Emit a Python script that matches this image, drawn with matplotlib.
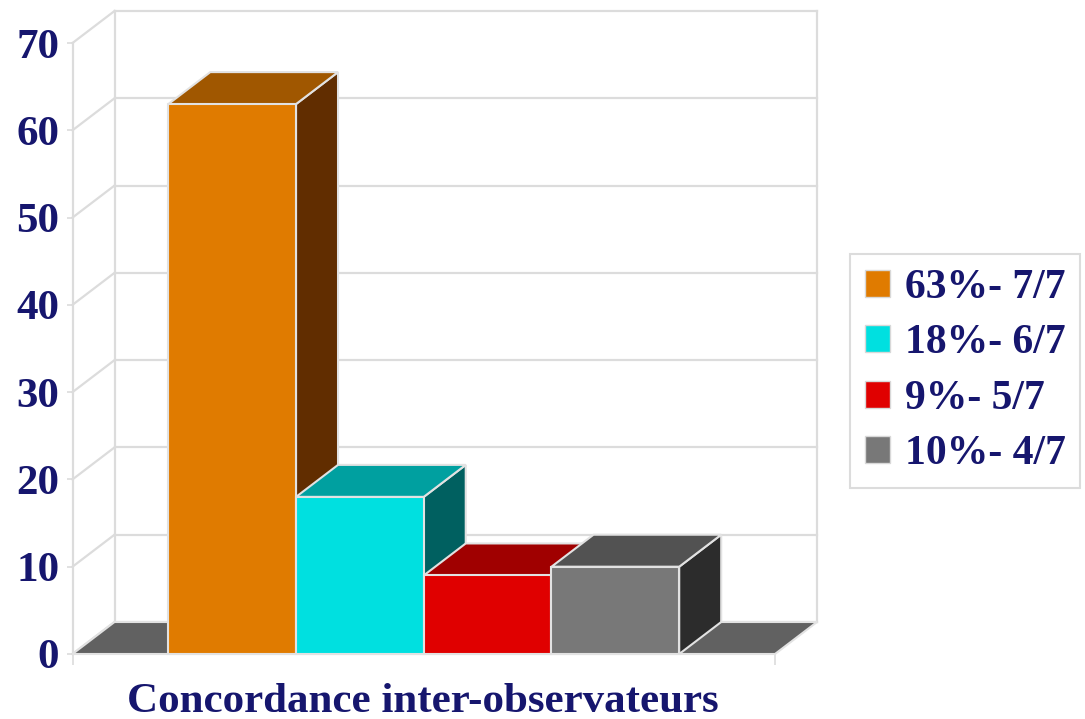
import matplotlib.pyplot as plt
from matplotlib.patches import Polygon, Patch

categories = ['63%- 7/7', '18%- 6/7', '9%- 5/7', '10%- 4/7']
values = [63, 18, 9, 10]
front_colors = ['#E07B00', '#00E0E0', '#E00000', '#787878']
top_colors = ['#A05700', '#00A0A0', '#A00000', '#525252']
side_colors = ['#612D00', '#006060', '#600000', '#2C2C2C']
yticks = [0, 10, 20, 30, 40, 50, 60, 70]

text_color = '#16166E'
grid_color = '#DCDCDC'
edge_color = '#E2E2E2'
font = 'Liberation Serif'

W, H = 1085, 719
fig = plt.figure(figsize=(W / 100, H / 100), dpi=100)

# front plane of the 3d box, in pixels
left, right, bottom, top = 72.5, 775, 654, 43
ax = fig.add_axes([left / W, 1 - bottom / H, (right - left) / W, (bottom - top) / H])
xmax, ymax = 5.5, 70
ax.set_xlim(0, xmax)
ax.set_ylim(0, ymax)
ax.patch.set_visible(False)
for s in ax.spines.values():
    s.set_visible(False)

# depth offset (pixels -> data units)
DX = 42 / ((right - left) / xmax)
DY = 32 / ((bottom - top) / ymax)

kw = dict(color=grid_color, lw=1.6, clip_on=False, zorder=1)
for t in yticks:
    ax.plot([DX, xmax + DX], [t + DY, t + DY], **kw)
    ax.plot([0, DX], [t, t + DY], **kw)
ax.plot([0, 0], [0, ymax], **kw)
ax.plot([DX, DX], [DY, ymax + DY], **kw)
ax.plot([xmax + DX, xmax + DX], [DY, ymax + DY], **kw)

# floor
ax.add_patch(Polygon([(0, 0), (xmax, 0), (xmax + DX, DY), (DX, DY)], closed=True,
                     facecolor='#616161', edgecolor=edge_color, lw=1.5,
                     clip_on=False, zorder=2))

# bars, drawn left to right
gap = 0.75
for i, v in enumerate(values):
    x0 = gap + i
    x1 = x0 + 1
    z = 3 + i
    ax.add_patch(Polygon([(x1, 0), (x1 + DX, DY), (x1 + DX, v + DY), (x1, v)], closed=True,
                         facecolor=side_colors[i], edgecolor=edge_color, lw=1.5,
                         clip_on=False, zorder=z))
    ax.add_patch(Polygon([(x0, v), (x1, v), (x1 + DX, v + DY), (x0 + DX, v + DY)], closed=True,
                         facecolor=top_colors[i], edgecolor=edge_color, lw=1.5,
                         clip_on=False, zorder=z))
    ax.bar(x0, v, width=1, align='edge', color=front_colors[i],
           edgecolor=edge_color, lw=1.5, clip_on=False, zorder=z + 0.5)

ax.set_yticks(yticks)
ax.set_yticklabels([str(t) for t in yticks], fontsize=31, fontweight='bold',
                   family=font, color=text_color)
ax.tick_params(axis='y', length=4.5, width=1.2, color=grid_color, pad=5)
ax.set_xticks([0, xmax])
ax.set_xticklabels([])
ax.tick_params(axis='x', length=8, width=1.2, color=grid_color)

fig.text(423 / W, 1 - 702 / H, 'Concordance inter-observateurs', ha='center', va='center',
         fontsize=31, fontweight='bold', family=font, color=text_color)

handles = [Patch(facecolor=c, edgecolor='#D8D8D8', lw=1) for c in front_colors]
leg = fig.legend(handles, categories, loc='center left',
                 bbox_to_anchor=(850 / W, 1 - 371 / H), bbox_transform=fig.transFigure,
                 prop={'family': font, 'weight': 'bold', 'size': 30},
                 frameon=True, fancybox=False, edgecolor='#D4D4D4',
                 handlelength=0.62, handleheight=0.62, handletextpad=0.35,
                 labelspacing=0.42, borderpad=0.35, borderaxespad=0)
leg.get_frame().set_linewidth(1.5)
for t in leg.get_texts():
    t.set_color(text_color)

fig.savefig('out.png', dpi=100)
